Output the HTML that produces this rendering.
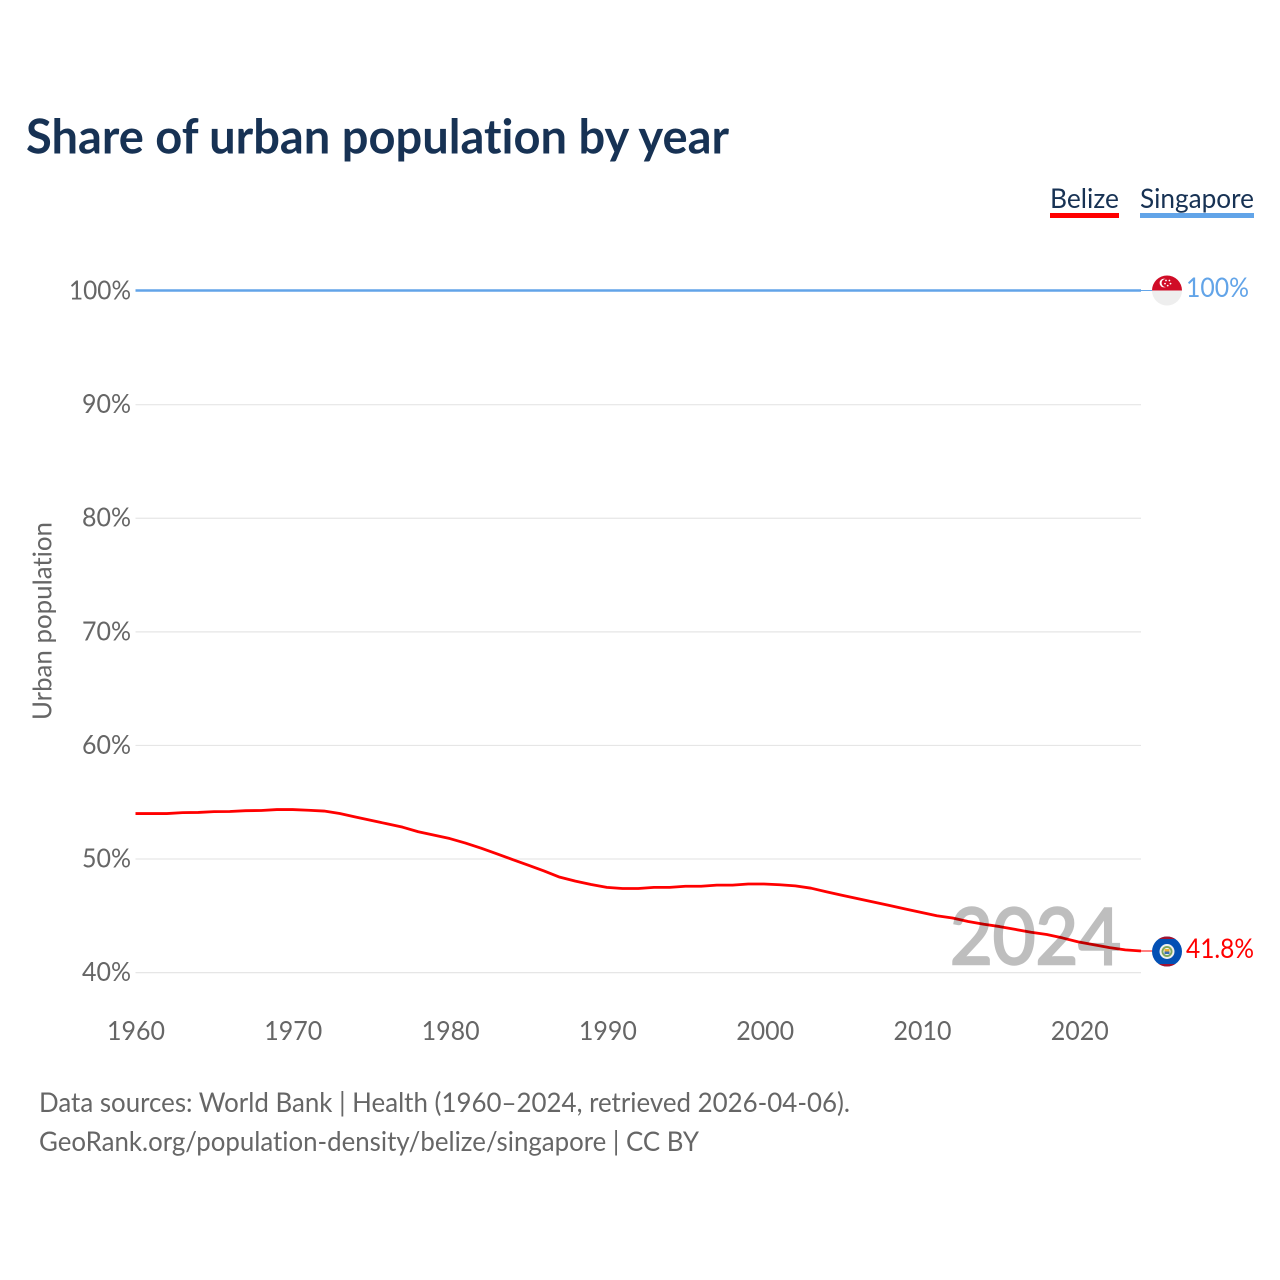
<!DOCTYPE html>
<html lang="en">
<head>
<meta charset="utf-8">
<title>Share of urban population by year</title>
<style>
html,body{margin:0;padding:0;background:#fff}
svg{display:block}
text{font-family:"Lato","Carlito","Liberation Sans",sans-serif;font-variant-ligatures:none}
</style>
</head>
<body>
<svg id="chart" width="1280" height="1280" viewBox="0 0 1280 1280" xmlns="http://www.w3.org/2000/svg">
  <rect width="1280" height="1280" fill="#fff"/>
  <text x="26" y="153.5" font-size="48" font-weight="700" fill="#173254" textLength="703" lengthAdjust="spacingAndGlyphs">Share of urban population by year</text>

  <g>
    <g>
      <text x="1050" y="208" font-size="27" fill="#173254" textLength="69" lengthAdjust="spacingAndGlyphs">Belize</text>
      <rect x="1050" y="213" width="69" height="5" fill="#ff0000"/>
    </g>
    <g>
      <text x="1140" y="208" font-size="27" fill="#173254" textLength="114" lengthAdjust="spacingAndGlyphs">Singapore</text>
      <rect x="1140" y="213" width="114" height="5" fill="#62a4e8"/>
    </g>
  </g>

  <text transform="translate(51.5,621) rotate(-90)" text-anchor="middle" font-size="26" fill="#666" textLength="198" lengthAdjust="spacingAndGlyphs">Urban population</text>

  <g id="grid"></g>
  <g id="yticks"></g>
  <g id="xticks"></g>
  <g id="series"></g>

  <text x="950" y="964" font-size="78" fill="#000" stroke="#000" stroke-width="2.5" opacity="0.25" textLength="171" lengthAdjust="spacingAndGlyphs">2024</text>

  <g id="singapore-flag">
    <clipPath id="sg-clip"><circle cx="1167" cy="290.5" r="15"/></clipPath>
    <g clip-path="url(#sg-clip)">
      <rect x="1152" y="275" width="30" height="15.5" fill="#d00c27"/>
      <rect x="1152" y="290.5" width="30" height="15.5" fill="#eeeeee"/>
      <circle cx="1164" cy="283" r="4.4" fill="#fff"/>
      <circle cx="1165.6" cy="283" r="4" fill="#d00c27"/>
      <circle cx="1166" cy="280.5" r="0.9" fill="#fff"/>
      <circle cx="1169.4" cy="280.5" r="0.9" fill="#fff"/>
      <circle cx="1170.5" cy="283.6" r="0.9" fill="#fff"/>
      <circle cx="1167.7" cy="285.6" r="0.9" fill="#fff"/>
      <circle cx="1165" cy="283.6" r="0.9" fill="#fff"/>
    </g>
  </g>
  <g id="belize-flag">
    <clipPath id="bz-clip"><circle cx="1167" cy="951.5" r="15"/></clipPath>
    <g clip-path="url(#bz-clip)">
      <rect x="1152" y="936" width="30" height="31" fill="#0350b4"/>
      <rect x="1152" y="936" width="30" height="3" fill="#a3122f"/>
      <rect x="1152" y="964" width="30" height="3" fill="#a3122f"/>
      <circle cx="1167" cy="951.5" r="7.5" fill="#f0f0ee"/>
      <circle cx="1167" cy="951.5" r="5.5" fill="#7fa65a"/>
      <circle cx="1167" cy="951.5" r="3.6" fill="#f3f3ee"/>
      <rect x="1164.5" y="949" width="5" height="2.5" fill="#f0b030"/>
      <rect x="1164.5" y="951.5" width="5" height="2.5" fill="#3a6fb0"/>
    </g>
  </g>

  <text id="label-singapore" x="1186" y="297" font-size="27" fill="#62a4e8" textLength="63" lengthAdjust="spacingAndGlyphs"></text>
  <text id="label-belize" x="1186" y="958" font-size="27" fill="#ff0000" textLength="68" lengthAdjust="spacingAndGlyphs"></text>

  <text x="39" y="1112" font-size="27" fill="#666" textLength="811" lengthAdjust="spacingAndGlyphs">Data sources: World Bank | Health (1960–2024, retrieved 2026-04-06).</text>
  <text x="39" y="1151" font-size="27" fill="#666" textLength="660" lengthAdjust="spacingAndGlyphs">GeoRank.org/population-density/belize/singapore | CC BY</text>
</svg>
<script>
const years = [1960,1961,1962,1963,1964,1965,1966,1967,1968,1969,1970,1971,1972,1973,1974,1975,1976,1977,1978,1979,1980,1981,1982,1983,1984,1985,1986,1987,1988,1989,1990,1991,1992,1993,1994,1995,1996,1997,1998,1999,2000,2001,2002,2003,2004,2005,2006,2007,2008,2009,2010,2011,2012,2013,2014,2015,2016,2017,2018,2019,2020,2021,2022,2023,2024];
const belizeValues = [53.95,53.95,53.95,54.03,54.05,54.12,54.13,54.2,54.22,54.3,54.3,54.24,54.17,53.95,53.65,53.35,53.05,52.75,52.35,52.05,51.75,51.35,50.9,50.4,49.9,49.4,48.9,48.35,48.0,47.7,47.45,47.35,47.35,47.45,47.45,47.55,47.55,47.65,47.65,47.75,47.75,47.68,47.58,47.38,47.05,46.75,46.45,46.15,45.85,45.55,45.25,44.95,44.75,44.45,44.2,44.0,43.75,43.5,43.3,43.0,42.65,42.4,42.15,41.95,41.85];
const singaporeValues = [100,100,100,100,100,100,100,100,100,100,100,100,100,100,100,100,100,100,100,100,100,100,100,100,100,100,100,100,100,100,100,100,100,100,100,100,100,100,100,100,100,100,100,100,100,100,100,100,100,100,100,100,100,100,100,100,100,100,100,100,100,100,100,100,100];
const yTicks = [40,50,60,70,80,90,100];
const xTicks = [1960,1970,1980,1990,2000,2010,2020];
const belizeEndLabel = "41.8%";
const singaporeEndLabel = "100%";

const NS = 'http://www.w3.org/2000/svg';
const X0 = 135.5, X1 = 1141, YB = 972, YT = 290.5;
const xScale = function (year) { return X0 + (year - 1960) / (2024 - 1960) * (X1 - X0); };
const xTickScale = function (year) { return 136 + (year - 1960) * 15.73; };
const yScale = function (v) { return YB - (v - 40) / (100 - 40) * (YB - YT); };
const make = function (tag, attrs, parent) {
  const el = document.createElementNS(NS, tag);
  for (const k in attrs) el.setAttribute(k, attrs[k]);
  parent.appendChild(el);
  return el;
};

const gridG = document.getElementById('grid');
const yG = document.getElementById('yticks');
yTicks.forEach(function (t) {
  if (t !== 100) {
    const ln = make('line', {x1: X0, x2: X1, y1: yScale(t) + 0.6, y2: yScale(t) + 0.6, stroke: '#e6e6e6', 'stroke-width': 1.2}, gridG);
    
    
  }
  const lb = make('text', {x: 131, y: yScale(t) + 9, 'text-anchor': 'end', 'font-size': 26, fill: '#666', textLength: t === 100 ? 62 : 49, lengthAdjust: 'spacingAndGlyphs'}, yG);
  lb.textContent = t + '%';
  
  
});

const xG = document.getElementById('xticks');
xTicks.forEach(function (t) {
  const lb = make('text', {x: xTickScale(t), y: 1040, 'text-anchor': 'middle', 'font-size': 26, fill: '#666', textLength: 58, lengthAdjust: 'spacingAndGlyphs'}, xG);
  lb.textContent = String(t);
  
  
});

const seriesG = document.getElementById('series');
const toPoints = function (vals) {
  return vals.map(function (v, i) { return xScale(years[i]).toFixed(2) + ',' + yScale(v).toFixed(2); }).join(' ');
};
const sgLine = make('polyline', {points: toPoints(singaporeValues), fill: 'none', stroke: '#62a4e8', 'stroke-width': 2.6, 'stroke-linejoin': 'round'}, seriesG);


const bzLine = make('polyline', {points: toPoints(belizeValues), fill: 'none', stroke: '#ff0000', 'stroke-width': 2.8, 'stroke-linejoin': 'round'}, seriesG);



const lastIdx = years.length - 1;
const sgLead = make('line', {x1: X1, x2: 1153, y1: yScale(singaporeValues[lastIdx]), y2: yScale(singaporeValues[lastIdx]), stroke: '#62a4e8', 'stroke-width': 1}, seriesG);


const bzLead = make('line', {x1: X1, x2: 1153, y1: yScale(belizeValues[lastIdx]), y2: yScale(belizeValues[lastIdx]), stroke: '#ff0000', 'stroke-width': 1}, seriesG);



document.getElementById('label-singapore').textContent = singaporeEndLabel;
document.getElementById('label-belize').textContent = belizeEndLabel;
</script>
</body>
</html>
